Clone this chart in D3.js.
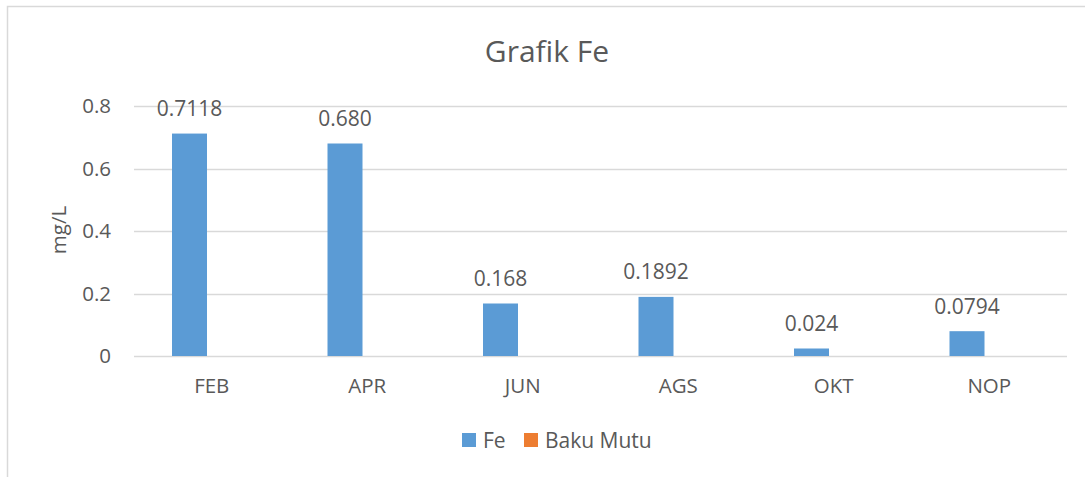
<!DOCTYPE html>
<html>
<head>
<meta charset="utf-8">
<script src="https://cdn.jsdelivr.net/npm/d3@7"></script>
<style>
  body { margin: 0; background: #fff; }
  text { font-family: "Open Sans", "Noto Sans", sans-serif; fill: #595959; }
</style>
</head>
<body>
<script>
const w = 1085;
const h = 477;

// data
const months = ["FEB", "APR", "JUN", "AGS", "OKT", "NOP"];
const seriesNames = ["Fe", "Baku Mutu"];
const fe = [0.7118, 0.680, 0.168, 0.1892, 0.024, 0.0794];
const feLabels = ["0.7118", "0.680", "0.168", "0.1892", "0.024", "0.0794"];
const bakuMutu = [0, 0, 0, 0, 0, 0];
const yTicks = [0, 0.2, 0.4, 0.6, 0.8];
const colors = ["#5b9bd5", "#ed7d31"];

const rows = months.map((m, i) => ({month: m, Fe: fe[i], "Baku Mutu": bakuMutu[i], label: feLabels[i]}));

const plotLeft = 134, plotRight = 1067, plotTop = 106, plotBottom = 356;

const svg = d3.select("body")
  .append("svg")
  .attr("width", w)
  .attr("height", h);

// chart border (top and left edges visible)
svg.append("path")
  .attr("d", `M7.5,${h} L7.5,6.5 L${w},6.5`)
  .attr("fill", "none")
  .attr("stroke", "#d9d9d9")
  .attr("stroke-width", 1.5);

const x0 = d3.scaleBand().domain(months).range([plotLeft, plotRight]).paddingInner(0);
const x1 = d3.scaleBand().domain(seriesNames).range([38, 118]).paddingInner(10 / 45);
const y = d3.scaleLinear().domain([0, 0.8]).range([plotBottom, plotTop]);

// gridlines
svg.append("g")
  .selectAll("line")
  .data(yTicks)
  .join("line")
  .attr("x1", plotLeft)
  .attr("x2", plotRight)
  .attr("y1", d => Math.round(y(d)) + 0.5)
  .attr("y2", d => Math.round(y(d)) + 0.5)
  .attr("stroke", "#d9d9d9")
  .attr("stroke-width", 1.5);

// y axis labels
const yAxis = svg.append("g")
  .attr("transform", `translate(${plotLeft},0)`)
  .call(d3.axisLeft(y).tickValues(yTicks).tickSize(0).tickPadding(23).tickFormat(d => d === 0 ? "0" : d3.format(".1f")(d)));
yAxis.select(".domain").remove();
yAxis.selectAll("text")
  .attr("font-size", 20.5)
  .attr("fill", "#595959")
  .attr("font-family", "Open Sans, sans-serif");

// x axis labels
const xAxis = svg.append("g")
  .attr("transform", `translate(0,${plotBottom})`)
  .call(d3.axisBottom(x0).tickSize(0).tickPadding(22));
xAxis.select(".domain").remove();
xAxis.selectAll("text")
  .attr("font-size", 20.5)
  .attr("fill", "#595959")
  .attr("font-family", "Open Sans, sans-serif");

// bars
const groups = svg.append("g")
  .selectAll("g")
  .data(rows)
  .join("g")
  .attr("transform", d => `translate(${x0(d.month)},0)`);

groups.selectAll("rect")
  .data(d => seriesNames.map((s, i) => ({key: s, value: d[s], color: colors[i]})))
  .join("rect")
  .attr("x", d => x1(d.key))
  .attr("width", x1.bandwidth())
  .attr("y", d => y(d.value))
  .attr("height", d => y(0) - y(d.value))
  .attr("fill", d => d.color);

// data labels on Fe
groups.append("text")
  .attr("x", x1("Fe") + x1.bandwidth() / 2)
  .attr("y", d => y(d.Fe) - 17.5)
  .attr("text-anchor", "middle")
  .attr("font-size", 21)
  .text(d => d.label);

// title
svg.append("text")
  .attr("x", 547)
  .attr("y", 62)
  .attr("text-anchor", "middle")
  .attr("font-size", 30)
  .text("Grafik Fe");

// y axis title
svg.append("text")
  .attr("transform", "translate(66,230) rotate(-90)")
  .attr("text-anchor", "middle")
  .attr("font-size", 20.5)
  .text("mg/L");

// legend
const legendX = [462, 524];
const legend = svg.append("g")
  .selectAll("g")
  .data(seriesNames)
  .join("g")
  .attr("transform", (d, i) => `translate(${legendX[i]},433)`);
legend.append("rect")
  .attr("width", 14)
  .attr("height", 14)
  .attr("fill", (d, i) => colors[i]);
legend.append("text")
  .attr("x", 21)
  .attr("y", 14.5)
  .attr("font-size", 21)
  .text(d => d);
</script>
</body>
</html>
